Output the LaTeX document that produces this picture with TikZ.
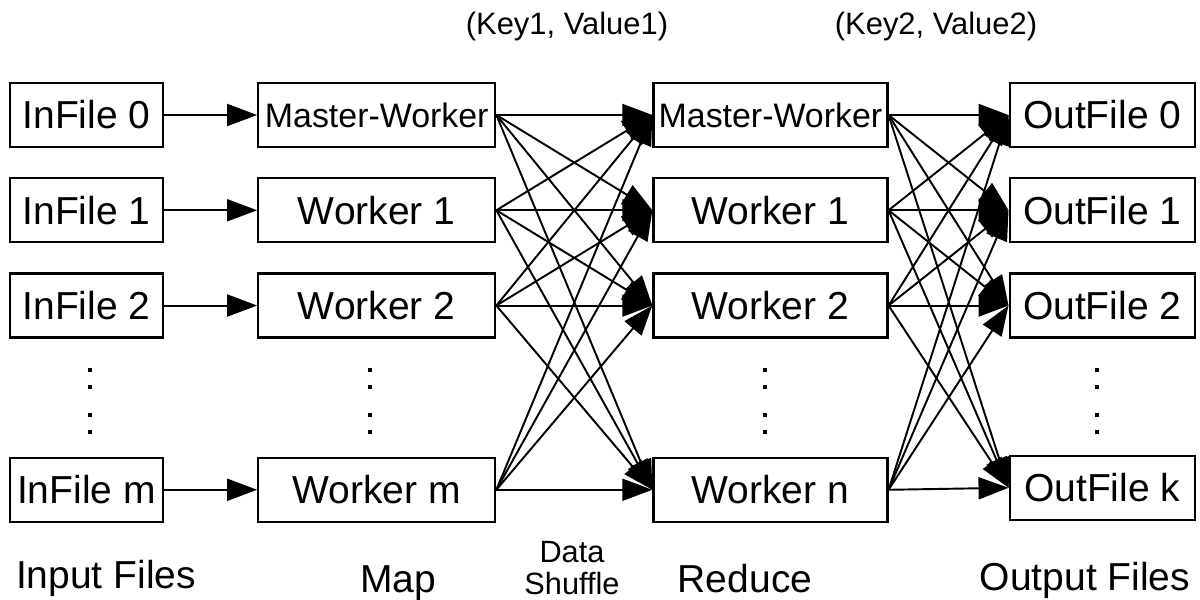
\documentclass[tikz,border=0pt]{standalone}
\usepackage{fontspec}
\setmainfont{Liberation Sans}
\usetikzlibrary{positioning, arrows.meta}

\begin{document}
\begin{tikzpicture}[x=0.02cm, y=-0.02cm, >={Triangle[length=0.6cm, width=0.44cm]},
    box/.style={draw, line width=1.3pt, inner sep=0pt, minimum height=1.28cm, font=\fontsize{22.2}{26}\selectfont},
    infile/.style={box, minimum width=3.06cm},
    mapbox/.style={box, minimum width=4.74cm},
    redbox/.style={box, minimum width=4.68cm},
    outfile/.style={box, minimum width=3.7cm},
    conn/.style={->, line width=1.1pt},
    caption/.style={anchor=base, font=\fontsize{22.2}{26}\selectfont},
    pairlabel/.style={font=\fontsize{17.6}{21}\selectfont}]
    \useasboundingbox (0,0) rectangle (1200,599);

    % Input files
    \node (in0) [infile] at (86.5,115) {InFile 0};
    \node (in1) [infile, below=0.58cm of in0] {InFile 1};
    \node (in2) [infile, below=0.58cm of in1] {InFile 2};
    \node (inm) [infile, below=2.36cm of in2] {InFile m};

    % Map
    \node (map0) [mapbox, right=1.86cm of in0, font=\fontsize{19.3}{23}\selectfont] {Master-Worker};
    \node (map1) [mapbox, right=1.86cm of in1] {Worker 1};
    \node (map2) [mapbox, right=1.86cm of in2] {Worker 2};
    \node (mapm) [mapbox, right=1.86cm of inm] {Worker m};

    % Reduce
    \node (red0) [redbox, right=3.12cm of map0, font=\fontsize{19.3}{23}\selectfont] {Master-Worker};
    \node (red1) [redbox, right=3.12cm of map1] {Worker 1};
    \node (red2) [redbox, right=3.12cm of map2] {Worker 2};
    \node (redn) [redbox, right=3.12cm of mapm] {Worker n};

    % Output files
    \node (out0) [outfile, right=2.4cm of red0] {OutFile 0};
    \node (out1) [outfile, right=2.4cm of red1] {OutFile 1};
    \node (out2) [outfile, right=2.4cm of red2] {OutFile 2};
    \node (outk) [outfile, below=2.32cm of out2] {OutFile k};

    % vertical dots
    \foreach \xd in {90, 370, 765, 1097}
        \foreach \yd in {370, 387, 415, 432}
            \fill (\xd-2,\yd-2) rectangle (\xd+2,\yd+2);

    % Arrows
    \foreach \i in {0,1,2}
        \draw[conn] (in\i) -- (map\i);
    \draw[conn] (inm) -- (mapm);
    \foreach \s in {map0,map1,map2,mapm}
        \foreach \t in {red0,red1,red2,redn}
            \draw[conn] (\s.east) -- (\t.west);
    \foreach \s in {red0,red1,red2,redn}
        \foreach \t in {out0,out1,out2,outk}
            \draw[conn] (\s.east) -- (\t.west);

    % Labels
    \node (kv1) [pairlabel] at (567,27) {(Key1, Value1)};
    \node (kv2) [pairlabel] at (936,27) {(Key2, Value2)};
    \node (lin) [caption] at (106,588) {Input Files};
    \node (lmap) [caption] at (398,592) {Map};
    \node (lshuf) [align=center, font=\fontsize{17.5}{18.2}\selectfont] at (572,568) {Data\\Shuffle};
    \node (lred) [caption] at (745,592) {Reduce};
    \node (lout) [caption] at (1085,590) {Output Files};
\end{tikzpicture}
\end{document}
